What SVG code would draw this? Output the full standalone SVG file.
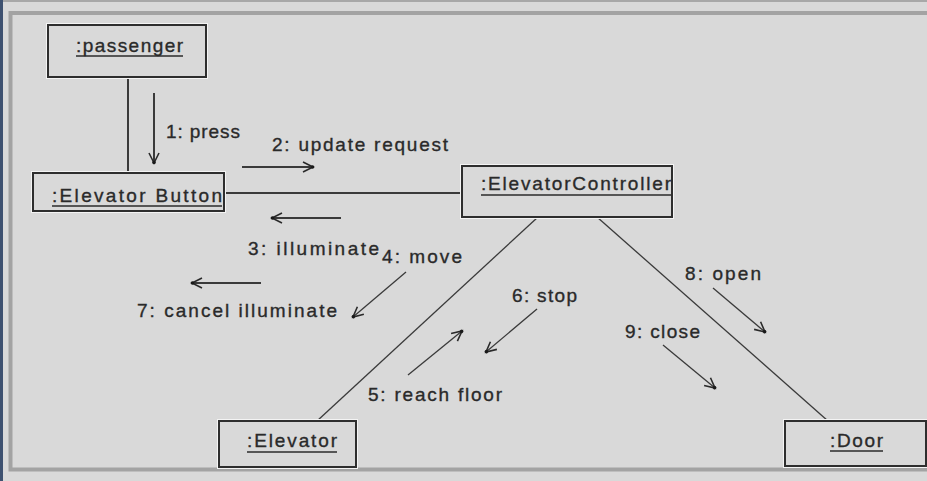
<svg xmlns="http://www.w3.org/2000/svg" width="927" height="481" viewBox="0 0 927 481">
<defs>
<style>
.box{fill:#d9d9d9;stroke:#2e2e2e;stroke-width:2}
.hl{fill:none;stroke:#f4f4f4;stroke-width:1}
.t{font-family:"Liberation Sans",Arial,sans-serif;font-size:19px;fill:#2a2a2a;stroke:#2a2a2a;stroke-width:0.35}
.ul{stroke:#2a2a2a;stroke-width:1.6}
.link{stroke:#3a3a3a;stroke-width:2;fill:none}
.dlink{stroke:#3a3a3a;stroke-width:1.3;fill:none}
.msg{stroke:#3a3a3a;stroke-width:2;fill:none;marker-end:url(#ah)}
.dmsg{stroke:#3a3a3a;stroke-width:1.3;fill:none;marker-end:url(#ah)}
</style>
<marker id="ah" markerUnits="userSpaceOnUse" markerWidth="24" markerHeight="24" viewBox="-12 -12 24 24" refX="0" refY="0" orient="auto">
<path d="M-10,-5 L0,0 L-10,5" fill="none" stroke="#2a2a2a" stroke-width="1.6"/>
<circle cx="-0.5" cy="0" r="1.8" fill="#1a1a1a"/>
</marker>
</defs>
<rect x="0" y="0" width="927" height="481" fill="#d9d9d9"/>
<rect x="0" y="0" width="927" height="2" fill="#a8a8a8"/>
<rect x="0" y="0" width="3" height="481" fill="#3e5170"/>
<path d="M927,13 L10.5,13 L10.5,469.5 L927,469.5" fill="none" stroke="#a3a3a3" stroke-width="4"/>

<g id="connectors">
<line class="link" x1="128" y1="78" x2="128" y2="173"/>
<line class="link" x1="224" y1="193" x2="461" y2="193"/>
<line class="dlink" x1="538" y1="217" x2="317" y2="421"/>
<line class="dlink" x1="597" y1="217" x2="828" y2="421"/>
<line class="msg" x1="154" y1="93" x2="154" y2="163"/>
<line class="msg" x1="242" y1="167" x2="313" y2="167"/>
<line class="msg" x1="341" y1="218" x2="272" y2="218"/>
<line class="msg" x1="261" y1="283" x2="192" y2="283"/>
<line class="dmsg" x1="406" y1="272" x2="353" y2="317"/>
<line class="dmsg" x1="408" y1="375" x2="462" y2="331"/>
<line class="dmsg" x1="537" y1="309" x2="486" y2="352"/>
<line class="dmsg" x1="713" y1="288" x2="765" y2="332"/>
<line class="dmsg" x1="663" y1="345" x2="715" y2="388"/>
<text class="t" x="166" y="138" textLength="74" lengthAdjust="spacing">1: press</text>
<text class="t" x="272" y="151" textLength="176" lengthAdjust="spacing">2: update request</text>
<text class="t" x="248" y="255" textLength="131" lengthAdjust="spacing">3: illuminate</text>
<text class="t" x="382" y="263" textLength="80" lengthAdjust="spacing">4: move</text>
<text class="t" x="368" y="401" textLength="134" lengthAdjust="spacing">5: reach floor</text>
<text class="t" x="512" y="302" textLength="65" lengthAdjust="spacing">6: stop</text>
<text class="t" x="137" y="317" textLength="200" lengthAdjust="spacing">7: cancel illuminate</text>
<text class="t" x="685" y="280" textLength="76" lengthAdjust="spacing">8: open</text>
<text class="t" x="625" y="338" textLength="75" lengthAdjust="spacing">9: close</text>
</g>

<g id="passenger">
<rect class="hl" x="46.5" y="23.5" width="161" height="55"/>
<rect class="box" x="48" y="25" width="158" height="52"/>
<text class="t" x="76" y="52" textLength="107" lengthAdjust="spacing">:passenger</text>
<line class="ul" x1="76" y1="56" x2="183" y2="56"/>
</g>

<g id="elevator-button">
<rect class="hl" x="31.5" y="171.5" width="194" height="41"/>
<rect class="box" x="33" y="173" width="191" height="38"/>
<text class="t" x="52" y="202" textLength="170" lengthAdjust="spacing">:Elevator Button</text>
<line class="ul" x1="52" y1="206" x2="222" y2="206"/>
</g>

<g id="elevator-controller">
<rect class="hl" x="460.5" y="164.5" width="213" height="54"/>
<rect class="box" x="462" y="166" width="210" height="51"/>
<text class="t" x="481" y="190" textLength="190" lengthAdjust="spacing">:ElevatorController</text>
<line class="ul" x1="481" y1="195" x2="671" y2="195"/>
</g>

<g id="elevator">
<rect class="hl" x="217.5" y="419.5" width="140" height="49"/>
<rect class="box" x="219" y="421" width="137" height="46"/>
<text class="t" x="247" y="447" textLength="90" lengthAdjust="spacing">:Elevator</text>
<line class="ul" x1="247" y1="452" x2="337" y2="452"/>
</g>

<g id="door">
<rect class="hl" x="783.5" y="419.5" width="144" height="48"/>
<rect class="box" x="785" y="421" width="141" height="45"/>
<text class="t" x="830" y="447" textLength="53" lengthAdjust="spacing">:Door</text>
<line class="ul" x1="830" y1="451" x2="883" y2="451"/>
</g>
</svg>
